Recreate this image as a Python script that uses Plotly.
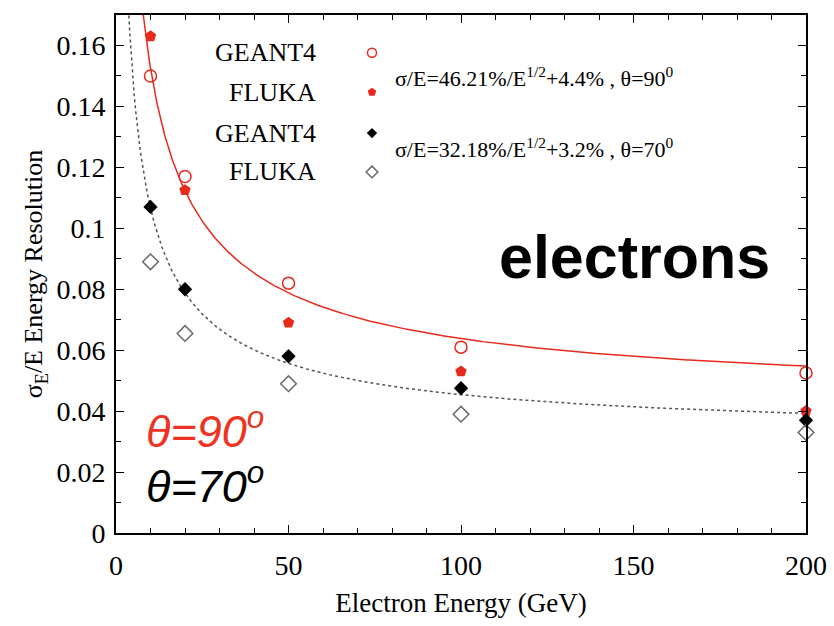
import numpy as np
import plotly.graph_objects as go

# Electron energies (GeV)
energy = [10, 20, 50, 100, 200]

# Relative energy resolution sigma_E/E
geant4_90 = [0.150, 0.117, 0.082, 0.061, 0.0525]
fluka_90 = [0.163, 0.1125, 0.069, 0.053, 0.040]
geant4_70 = [0.107, 0.080, 0.058, 0.0475, 0.037]
fluka_70 = [0.089, 0.0655, 0.049, 0.039, 0.033]

# Fit parameters: stochastic term (fraction / sqrt(GeV)) and constant term
fit_90 = [0.4621, 0.044]
fit_70 = [0.3218, 0.032]

x_ticks = [0, 50, 100, 150, 200]
y_ticks = [0, 0.02, 0.04, 0.06, 0.08, 0.1, 0.12, 0.14, 0.16]
y_tick_text = ["0", "0.02", "0.04", "0.06", "0.08", "0.1", "0.12", "0.14", "0.16"]

RED = "#e8291c"
GRAY = "#6a6a6a"
SERIF = "Liberation Serif"
SANS = "Liberation Sans"


def resolution(e, params):
    a, c = params
    return np.sqrt((a / np.sqrt(e)) ** 2 + c ** 2)


e_fine = np.linspace(1.0, 200.0, 600)

fig = go.Figure()

fig.add_trace(go.Scatter(x=e_fine, y=resolution(e_fine, fit_90), mode="lines",
                         line=dict(color=RED, width=1.5), showlegend=False))
fig.add_trace(go.Scatter(x=e_fine, y=resolution(e_fine, fit_70), mode="lines",
                         line=dict(color="#555555", width=1.5, dash="dot"), showlegend=False))

series = [
    (geant4_90, dict(symbol="circle-open", color=RED, size=12, line=dict(width=1.5, color=RED))),
    (fluka_90, dict(symbol="pentagon", color=RED, size=12)),
    (geant4_70, dict(symbol="diamond", color="black", size=11)),
    (fluka_70, dict(symbol="diamond-open", color=GRAY, size=12, line=dict(width=1.5, color=GRAY))),
]
for vals, marker in series:
    fig.add_trace(go.Scatter(x=energy, y=vals, mode="markers", marker=marker,
                             showlegend=False, cliponaxis=False))

# Hand-made key: labels on the left, smaller symbols to their right
key_labels = ["GEANT4", "FLUKA", "GEANT4", "FLUKA"]
key_y = [0.927, 0.851, 0.772, 0.697]
key_x_text = 0.293
key_x_marker = 0.371
for (vals, marker), label, yk in zip(series, key_labels, key_y):
    key_marker = dict(marker)
    key_marker["size"] = marker["size"] - 3
    fig.add_trace(go.Scatter(x=[key_x_marker], y=[yk], xaxis="x2", yaxis="y2",
                             mode="markers", marker=key_marker, showlegend=False))
    fig.add_annotation(x=key_x_text, y=yk, xref="paper", yref="paper", text=label,
                       showarrow=False, xanchor="right", yanchor="middle",
                       font=dict(family=SERIF, size=26, color="black"))

formulas = [
    ("σ/E=46.21%/E<sup>1/2</sup>+4.4% , θ=90<sup>0</sup>", 0.880),
    ("σ/E=32.18%/E<sup>1/2</sup>+3.2% , θ=70<sup>0</sup>", 0.743),
]
for text, yk in formulas:
    fig.add_annotation(x=0.401, y=yk, xref="paper", yref="paper", text=text,
                       showarrow=False, xanchor="left", yanchor="middle",
                       font=dict(family=SERIF, size=22, color="black"))

fig.add_annotation(x=0.752, y=0.533, xref="paper", yref="paper", text="<b>electrons</b>",
                   showarrow=False, xanchor="center", yanchor="middle",
                   font=dict(family=SANS, size=61, color="black"))
fig.add_annotation(x=0.040, y=0.203, xref="paper", yref="paper", text="<i>θ=90<sup>o</sup></i>",
                   showarrow=False, xanchor="left", yanchor="middle",
                   font=dict(family=SANS, size=45, color="#ee3322"))
fig.add_annotation(x=0.040, y=0.0965, xref="paper", yref="paper", text="<i>θ=70<sup>o</sup></i>",
                   showarrow=False, xanchor="left", yanchor="middle",
                   font=dict(family=SANS, size=45, color="black"))

axis_common = dict(showline=True, linecolor="black", linewidth=2, mirror="ticks",
                   ticks="inside", ticklen=8, tickwidth=1.2, tickcolor="black",
                   showgrid=False, zeroline=False, automargin=False,
                   tickfont=dict(family=SERIF, size=28, color="black"))

fig.update_layout(
    width=834, height=626,
    margin=dict(l=116, r=28, t=15, b=93),
    plot_bgcolor="white", paper_bgcolor="white",
    xaxis=dict(range=[0, 200], tickvals=x_ticks,
               minor=dict(dtick=10, ticks="inside", ticklen=5, tickcolor="black"),
               ticklabelstandoff=6,
               title=dict(text="Electron Energy (GeV)", standoff=14,
                          font=dict(family=SERIF, size=27, color="black")),
               **axis_common),
    yaxis=dict(range=[0, 0.17], tickvals=y_ticks, ticktext=y_tick_text,
               minor=dict(dtick=0.01, ticks="inside", ticklen=5, tickcolor="black"),
               ticklabelstandoff=3,
               title=dict(text="σ<sub>E</sub>/E Energy Resolution", standoff=6,
                          font=dict(family=SERIF, size=26, color="black")),
               **axis_common),
    xaxis2=dict(range=[0, 1], overlaying="x", visible=False, fixedrange=True),
    yaxis2=dict(range=[0, 1], overlaying="y", visible=False, fixedrange=True),
)

fig.write_html("out.html")
